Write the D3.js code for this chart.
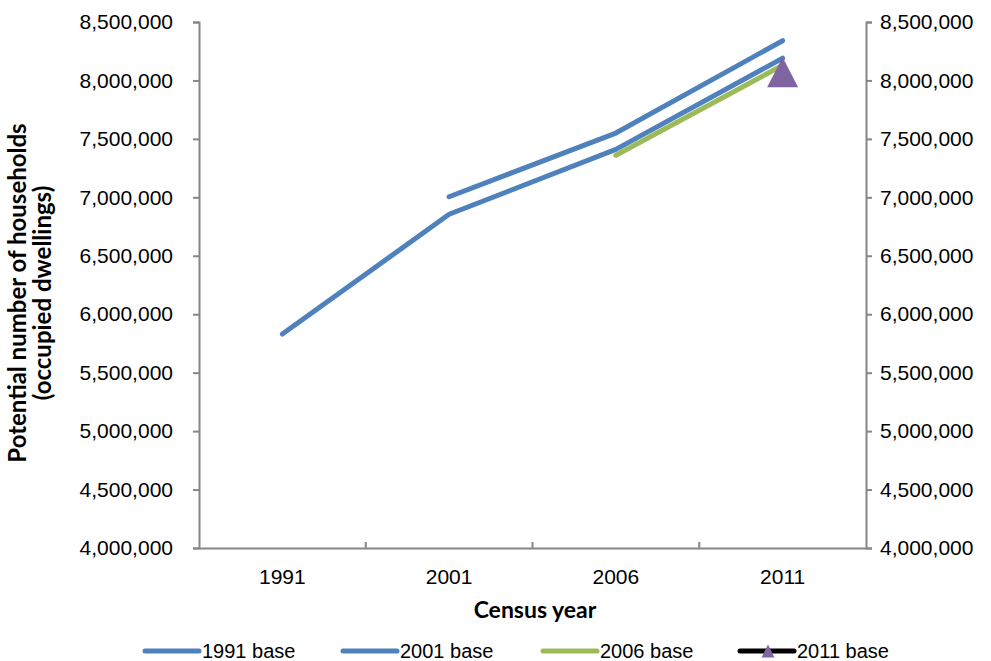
<!DOCTYPE html>
<html>
<head>
<meta charset="utf-8">
<script src="https://cdn.jsdelivr.net/npm/d3@7"></script>
<style>
  html, body { margin: 0; padding: 0; background: #fff; }
  svg { display: block; }
  text { font-family: "Liberation Sans", Arial, sans-serif; fill: #000; }
  .title { font-family: Lato, "Noto Sans", sans-serif; font-weight: bold; }
</style>
</head>
<body>
<svg id="chart" width="991" height="661"></svg>
<script>
// ---- data ----
const years = ["1991", "2001", "2006", "2011"];
const base1991 = [5830000, 6855000, 7410000, 8190000];
const base2001 = [null, 7005000, 7550000, 8340000];
const base2006 = [null, null, 7360000, 8130000];
const base2011 = [null, null, null, 8070000];
const seriesNames = ["1991 base", "2001 base", "2006 base", "2011 base"];
const yTicks = [4000000, 4500000, 5000000, 5500000, 6000000, 6500000, 7000000, 7500000, 8000000, 8500000];
const xTitle = "Census year";
const yTitle = ["Potential number of households", "(occupied dwellings)"];

(function () {
// ---- layout ----
const svg = d3.select("#chart");
const pL = 199, pR = 866, pT = 22, pB = 548;
const x = d3.scaleBand().domain(years).range([pL, pR]).padding(0);
const y = d3.scaleLinear().domain([4000000, 8500000]).range([pB, pT]);
const fmt = d3.format(",");
const axisColor = "#868686";
const blue = "#4F81BD", green = "#9BBB59", purple = "#8064A2";
const labelFont = "21px";

// left axis
const gL = svg.append("g").attr("transform", `translate(${pL},0)`)
  .call(d3.axisLeft(y).tickValues(yTicks).tickFormat(fmt).tickSize(6).tickPadding(20));
// right axis
const gR = svg.append("g").attr("transform", `translate(${pR},0)`)
  .call(d3.axisRight(y).tickValues(yTicks).tickFormat(fmt).tickSize(6).tickPadding(8));
[gL, gR].forEach(g => {
  g.select(".domain").attr("stroke", axisColor).attr("stroke-width", 2);
  g.selectAll(".tick line").attr("stroke", axisColor).attr("stroke-width", 2);
  g.selectAll(".tick text").style("font-size", labelFont).attr("fill", "#000")
    .style("font-family", "'Liberation Sans', Arial, sans-serif");
});

// bottom axis
const gB = svg.append("g").attr("transform", `translate(0,${pB})`)
  .call(d3.axisBottom(x).tickSize(0).tickPadding(21));
gB.select(".domain").attr("stroke", axisColor).attr("stroke-width", 2);
gB.selectAll(".tick text").style("font-size", labelFont).attr("fill", "#000")
  .style("font-family", "'Liberation Sans', Arial, sans-serif");
gB.selectAll(".cat-tick").data(years.slice(1)).enter().append("line")
  .attr("x1", d => x(d)).attr("x2", d => x(d))
  .attr("y1", 0).attr("y2", -6)
  .attr("stroke", axisColor).attr("stroke-width", 2);

// ---- series ----
const cx = d => x(d) + x.bandwidth() / 2;
const line = d3.line()
  .defined(d => d.v != null)
  .x(d => cx(d.year)).y(d => y(d.v));
const toPts = arr => years.map((yr, i) => ({ year: yr, v: arr[i] }));

const series = [
  { name: seriesNames[0], data: base1991, color: blue },
  { name: seriesNames[1], data: base2001, color: blue },
  { name: seriesNames[2], data: base2006, color: green }
];
series.forEach(s => {
  svg.append("path").datum(toPts(s.data))
    .attr("d", line)
    .attr("fill", "none").attr("stroke", s.color)
    .attr("stroke-width", 5).attr("stroke-linecap", "round").attr("stroke-linejoin", "round");
});

const tri = (px, py, w, h) => `M${px},${py - h / 2}L${px + w / 2},${py + h / 2}L${px - w / 2},${py + h / 2}Z`;
svg.selectAll(".m2011").data(toPts(base2011).filter(d => d.v != null)).enter()
  .append("path")
  .attr("d", d => tri(cx(d.year), y(d.v), 31, 30))
  .attr("fill", purple);

// ---- titles ----
svg.append("text").attr("class", "title").attr("x", 535).attr("y", 618)
  .attr("text-anchor", "middle").style("font-size", "23px")
  .text(xTitle);
const yt = svg.append("text").attr("class", "title").attr("transform", "translate(0,293) rotate(-90)")
  .attr("text-anchor", "middle").style("font-size", "24px");
yt.append("tspan").attr("x", 0).attr("y", 26).text(yTitle[0]);
yt.append("tspan").attr("x", 0).attr("y", 51).text(yTitle[1]);

// ---- legend ----
const legendX = [145, 343, 543, 740];
const legendY = 651;
const legendColors = [blue, blue, green, "#000"];
seriesNames.forEach((n, i) => {
  const g = svg.append("g").attr("transform", `translate(${legendX[i]},${legendY})`);
  g.append("line").attr("x1", 0).attr("x2", 54).attr("y1", 0).attr("y2", 0)
    .attr("stroke", legendColors[i]).attr("stroke-width", 5).attr("stroke-linecap", "round");
  if (i === 3) {
    g.append("path").attr("d", tri(28, 0, 13, 13)).attr("fill", purple);
  }
  g.append("text").attr("x", 57).attr("y", 7).style("font-size", "20px").text(n);
});
})();
</script>
</body>
</html>
